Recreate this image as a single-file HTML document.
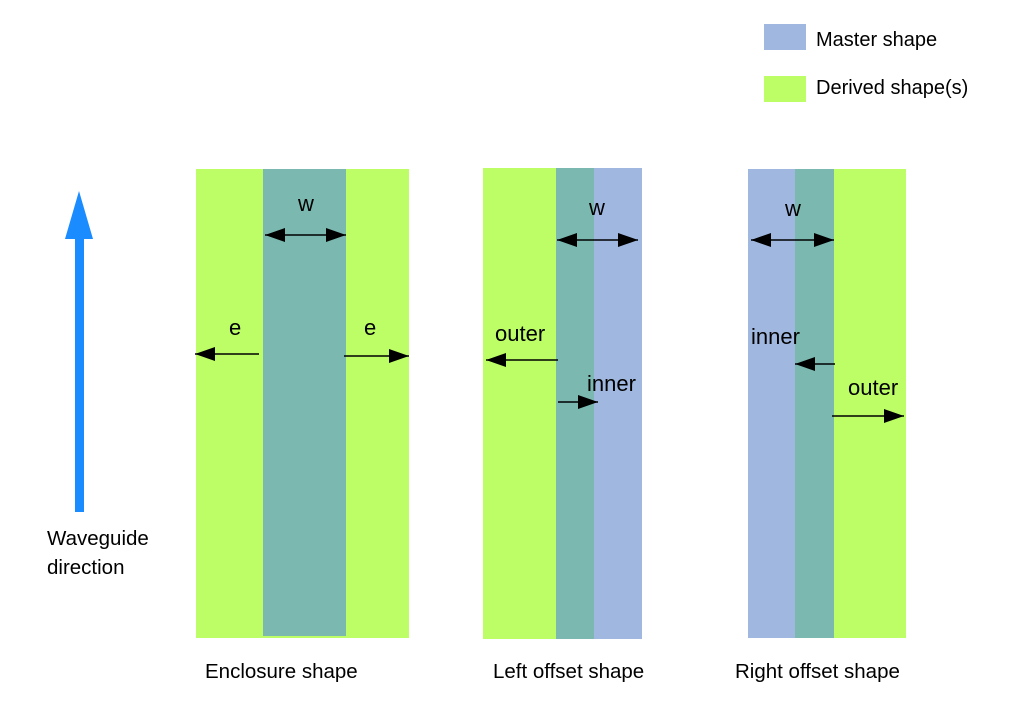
<!DOCTYPE html>
<html><head><style>body{margin:0;background:#fff}svg{display:block}text{font-family:"Liberation Sans",sans-serif;fill:#000}</style></head><body>
<svg width="1013" height="714" viewBox="0 0 1013 714">
<defs><marker id="a" markerWidth="20" markerHeight="14" refX="20" refY="7" orient="auto-start-reverse" markerUnits="userSpaceOnUse"><path d="M0,0L20,7L0,14z"/></marker></defs>
<rect x="764" y="24" width="42" height="26" fill="#a0b8e0"/>
<text x="816" y="46" font-size="20">Master shape</text>
<rect x="764" y="76" width="42" height="26" fill="#bdfd66"/>
<text x="816" y="94" font-size="20">Derived shape(s)</text>
<path d="M75,512V239H65L79,191L93,239H84V512z" fill="#1a8cff"/>
<text x="47" y="545" font-size="20.5">Waveguide</text>
<text x="47" y="574" font-size="20.5">direction</text>
<rect x="196" y="169" width="213" height="469" fill="#bdfd66"/>
<rect x="263" y="169" width="83" height="467" fill="#7ab8b0"/>
<rect x="483" y="168" width="73" height="471" fill="#bdfd66"/>
<rect x="556" y="168" width="38" height="471" fill="#7ab8b0"/>
<rect x="594" y="168" width="48" height="471" fill="#a0b8e0"/>
<rect x="748" y="169" width="47" height="469" fill="#a0b8e0"/>
<rect x="795" y="169" width="39" height="469" fill="#7ab8b0"/>
<rect x="834" y="169" width="72" height="469" fill="#bdfd66"/>
<g stroke="#000" stroke-width="1.5" fill="none">
<line x1="265" y1="235" x2="346" y2="235" marker-end="url(#a)" marker-start="url(#a)"/>
<line x1="259" y1="354" x2="195" y2="354" marker-end="url(#a)"/>
<line x1="344" y1="356" x2="409" y2="356" marker-end="url(#a)"/>
<line x1="557" y1="240" x2="638" y2="240" marker-end="url(#a)" marker-start="url(#a)"/>
<line x1="558" y1="360" x2="486" y2="360" marker-end="url(#a)"/>
<line x1="558" y1="402" x2="598" y2="402" marker-end="url(#a)"/>
<line x1="751" y1="240" x2="834" y2="240" marker-end="url(#a)" marker-start="url(#a)"/>
<line x1="835" y1="364" x2="795" y2="364" marker-end="url(#a)"/>
<line x1="832" y1="416" x2="904" y2="416" marker-end="url(#a)"/>
</g>
<text x="298" y="211" font-size="22">w</text>
<text x="229" y="335" font-size="22">e</text>
<text x="364" y="335" font-size="22">e</text>
<text x="589" y="215" font-size="22">w</text>
<text x="495" y="341" font-size="22">outer</text>
<text x="587" y="391" font-size="22">inner</text>
<text x="785" y="216" font-size="22">w</text>
<text x="751" y="344" font-size="22">inner</text>
<text x="848" y="395" font-size="22">outer</text>
<text x="205" y="678" font-size="20.5">Enclosure shape</text>
<text x="493" y="678" font-size="20.5">Left offset shape</text>
<text x="735" y="678" font-size="20.5">Right offset shape</text>
</svg>
</body></html>
